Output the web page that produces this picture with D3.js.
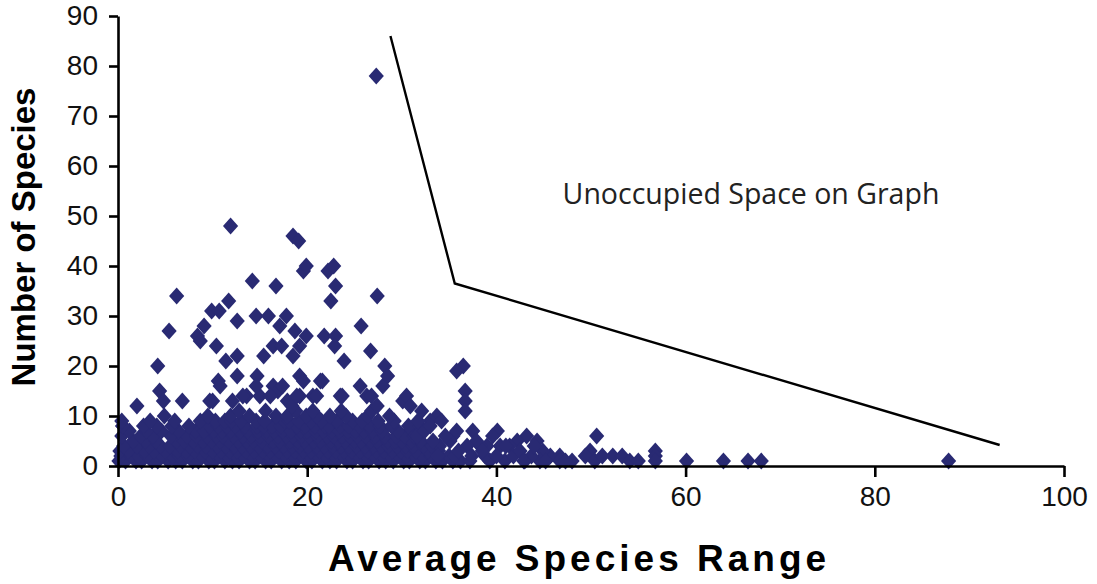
<!DOCTYPE html>
<html>
<head>
<meta charset="utf-8">
<script src="https://cdn.jsdelivr.net/npm/d3@7"></script>
<style>
  body { margin: 0; background: #fff; }
  svg { display: block; }
</style>
</head>
<body>
<script>
// tick values
const xTicks = [0, 20, 40, 60, 80, 100];
const yTicks = [0, 10, 20, 30, 40, 50, 60, 70, 80, 90];

// [average species range, number of species]
const upperPoints = [
  [27.3, 78], [11.9, 48], [18.5, 46], [19.1, 45], [19.6, 39], [19.9, 40],
  [22.2, 39], [22.8, 40], [23.0, 36], [22.5, 33], [27.4, 34], [14.2, 37],
  [16.7, 36], [6.2, 34], [11.7, 33], [9.9, 31], [10.7, 31], [12.6, 29],
  [14.6, 30], [15.9, 30], [17.8, 30], [17.1, 28], [5.4, 27], [9.1, 28],
  [8.4, 26], [8.7, 25], [10.4, 24], [4.2, 20], [11.4, 21], [12.6, 22],
  [15.4, 22], [16.4, 24], [17.3, 24], [18.7, 27], [19.9, 26], [19.2, 24],
  [18.5, 22], [21.8, 26], [23.0, 26], [22.9, 24], [23.9, 21], [25.7, 28],
  [26.7, 23], [28.2, 20], [28.5, 18]
];

const midPoints = [
  [4.4, 15], [2.0, 12], [4.8, 13], [6.8, 13], [0.5, 8], [10.6, 17],
  [12.6, 18], [14.7, 18], [13.6, 14], [12.1, 13], [10.0, 13], [16.4, 16],
  [15.0, 14], [16.9, 15], [17.9, 13], [19.2, 18], [21.4, 17], [20.6, 14],
  [23.7, 14], [25.6, 16], [26.3, 14], [28.0, 16], [30.1, 13], [27.4, 12],
  [19.2, 14], [18.4, 12], [16.1, 14], [9.7, 13], [13.2, 14], [10.8, 16],
  [19.6, 17], [21.6, 17], [23.5, 14], [26.8, 14], [18.9, 14], [21.0, 14],
  [0.4, 9], [14.6, 16], [17.4, 16]
];

const tailPoints = [
  [36.5, 20], [35.8, 19], [36.7, 15], [36.7, 13], [36.7, 11], [30.5, 14],
  [30.9, 12], [37.5, 7], [40.1, 7], [50.6, 6], [43.2, 6], [33.7, 10],
  [33.0, 9], [31.9, 8], [35.4, 6], [52.3, 2], [53.3, 2], [54.1, 1],
  [55.0, 1], [56.8, 3], [56.8, 2], [56.8, 1], [60.1, 1], [64.0, 1],
  [66.6, 1], [68.0, 1], [87.8, 1], [49.9, 3], [49.4, 2], [48.0, 1],
  [46.7, 2], [45.7, 2], [44.9, 3], [44.3, 5], [42.2, 5], [41.4, 4],
  [40.4, 4], [39.0, 4], [38.3, 4], [37.9, 5], [36.9, 4], [35.1, 5],
  [34.0, 4], [33.3, 5], [31.6, 6], [37.2, 1], [39.3, 1], [40.9, 1],
  [43.0, 1], [44.6, 1], [46.7, 1], [33.8, 2], [35.6, 2], [37.4, 2],
  [38.8, 2], [41.8, 2], [43.7, 2], [45.2, 1], [47.3, 1], [50.4, 1],
  [51.2, 2], [36.0, 3], [38.5, 3], [40.0, 2], [42.5, 3], [44.0, 4],
  [39.6, 6], [41.0, 4], [42.9, 1], [34.6, 6], [35.8, 7], [32.4, 7],
  [33.0, 8], [31.7, 9], [32.1, 11], [34.2, 9]
];

const rowOne = [0.1, 0.8, 1.9, 2.5, 3.6, 4.2, 5.3, 6.1, 6.8, 7.9, 8.5, 9.6, 10.2, 11.3, 12.1, 12.8, 13.9, 14.5, 15.6, 16.2, 17.3, 18.1, 18.8, 19.9, 20.5, 21.6, 22.4, 23.1, 24.2, 24.8, 25.9, 26.5, 27.6, 28.3, 29.1, 30.2, 30.8, 31.9, 32.5, 33.6, 34.3, 35.4, 36.2];
const rowTwo = [0.3, 1.4, 2.2, 3.1, 4.7, 5.8, 6.5, 7.4, 8.9, 9.8, 10.7, 11.6, 12.5, 13.3, 14.2, 15.1, 16.0, 16.8, 17.7, 18.6, 19.5, 20.3, 21.2, 22.0, 22.9, 23.8, 24.6, 25.4, 26.3, 27.1, 28.0, 28.8, 29.7, 30.5, 31.4, 32.2, 33.1, 34.0, 35.0];
const rowThree = [0.2, 1.1, 2.8, 3.8, 5.0, 6.3, 7.2, 8.1, 9.2, 10.0, 10.9, 11.8, 12.6, 13.5, 14.4, 15.3, 16.1, 17.0, 17.9, 18.7, 19.6, 20.4, 21.3, 22.2, 23.0, 23.9, 24.7, 25.6, 26.4, 27.3, 28.1, 29.0, 29.9, 30.6, 31.5, 32.8, 33.9];
const rowFour = [0.6, 2.0, 3.3, 4.5, 5.5, 6.6, 7.6, 8.4, 9.3, 10.5, 11.4, 12.3, 13.1, 14.0, 14.9, 15.8, 16.6, 17.5, 18.4, 19.2, 20.1, 21.0, 21.8, 22.7, 23.6, 24.4, 25.2, 26.1, 27.0, 27.8, 28.6, 29.5, 30.4, 31.2, 32.3, 33.2];
const rowFive = [1.6, 2.9, 4.0, 6.2, 7.0, 8.0, 9.0, 9.9, 10.8, 11.7, 12.7, 13.6, 14.3, 15.2, 16.4, 17.1, 18.2, 19.0, 19.7, 20.7, 21.4, 22.5, 23.3, 24.0, 25.0, 25.7, 26.7, 27.4, 28.5, 29.3, 30.0, 31.0, 32.0];
const rowSix = [0.4, 2.4, 3.7, 5.6, 7.3, 8.3, 9.4, 10.4, 11.1, 12.2, 13.2, 14.1, 15.0, 15.9, 16.9, 17.8, 18.5, 19.4, 20.2, 21.1, 22.1, 22.8, 23.7, 24.5, 25.3, 26.2, 27.2, 28.2, 29.4, 30.3, 31.3];
const rowSeven = [1.2, 3.0, 4.6, 6.4, 8.2, 9.1, 10.1, 11.0, 11.9, 12.9, 13.7, 14.8, 15.7, 16.5, 17.4, 18.3, 19.3, 20.0, 20.9, 21.7, 22.6, 23.4, 24.3, 25.1, 26.0, 26.9, 27.9, 29.6, 31.1];
const rowEight = [0.5, 2.7, 4.1, 5.7, 7.5, 9.7, 10.6, 11.5, 12.4, 13.4, 14.7, 15.4, 16.3, 17.2, 18.9, 19.8, 20.8, 21.9, 22.3, 23.5, 24.4, 25.5, 26.6, 27.7, 28.9, 30.7];
const rowNine = [3.4, 6.0, 8.7, 10.3, 11.3, 12.0, 13.0, 14.6, 15.5, 17.6, 18.1, 19.1, 20.4, 21.5, 23.1, 24.8, 25.8, 27.5, 29.2];
const rowTen = [4.9, 9.5, 11.9, 13.9, 16.7, 17.9, 19.9, 21.0, 22.4, 24.1, 26.4, 28.7];
const rowEleven = [12.8, 15.6, 18.8, 20.6, 23.6, 26.8];

// the hand-drawn boundary line, in data units
const boundary = [[28.8, 86], [35.6, 36.5], [93.2, 4.2]];

const width = 1097, height = 584;
const margin = { top: 16, right: 33, bottom: 118, left: 118 };

const svg = d3.select("body").append("svg")
  .attr("width", width)
  .attr("height", height);

const x = d3.scaleLinear().domain([0, 100]).range([margin.left, width - margin.right]);
const y = d3.scaleLinear().domain([0, 90]).range([height - margin.bottom, margin.top]);

const dense = [];
[rowOne, rowTwo, rowThree, rowFour, rowFive, rowSix, rowSeven, rowEight, rowNine, rowTen, rowEleven]
  .forEach((row, i) => row.forEach(v => dense.push([v, i + 1])));

const allPoints = dense.concat(midPoints, tailPoints, upperPoints);

const diamond = {
  draw(ctx, size) {
    const rx = 7.6, ry = 8.4;
    ctx.moveTo(0, -ry);
    ctx.lineTo(rx, 0);
    ctx.lineTo(0, ry);
    ctx.lineTo(-rx, 0);
    ctx.closePath();
  }
};

svg.append("g")
  .selectAll("path")
  .data(allPoints)
  .join("path")
  .attr("transform", d => `translate(${x(d[0])},${y(d[1])})`)
  .attr("d", d3.symbol(diamond))
  .attr("fill", "#292a73");

// axes
const xAxis = svg.append("g")
  .attr("transform", `translate(0,${y(0)})`)
  .call(d3.axisBottom(x).tickValues(xTicks).tickSize(11).tickPadding(9).tickSizeOuter(0));
const yAxis = svg.append("g")
  .attr("transform", `translate(${x(0)},0)`)
  .call(d3.axisLeft(y).tickValues(yTicks).tickSize(9).tickPadding(11).tickSizeOuter(0));

[xAxis, yAxis].forEach(g => {
  g.select(".domain").attr("stroke", "#000").attr("stroke-width", 2.6);
  g.selectAll(".tick line").attr("stroke", "#000").attr("stroke-width", 2.6);
  g.selectAll(".tick text")
    .attr("fill", "#111")
    .style("font-family", "'Liberation Sans', Arial, sans-serif")
    .style("font-size", "28px");
});

// boundary line
svg.append("path")
  .datum(boundary)
  .attr("d", d3.line().x(d => x(d[0])).y(d => y(d[1])))
  .attr("fill", "none")
  .attr("stroke", "#000")
  .attr("stroke-width", 2.4);

svg.append("text")
  .attr("x", 751)
  .attr("y", 204)
  .attr("text-anchor", "middle")
  .style("font-family", "'Open Sans', 'Noto Sans', sans-serif")
  .style("font-size", "28.5px")
  .attr("fill", "#222")
  .text("Unoccupied Space on Graph");

// axis titles
svg.append("text")
  .attr("x", 579)
  .attr("y", 571)
  .attr("text-anchor", "middle")
  .style("font-family", "'Liberation Sans', Arial, sans-serif")
  .style("font-weight", "bold")
  .style("font-size", "37px")
  .style("letter-spacing", "4px")
  .text("Average Species Range");

svg.append("text")
  .attr("transform", "translate(35,237) rotate(-90)")
  .attr("text-anchor", "middle")
  .style("font-family", "'Liberation Sans', Arial, sans-serif")
  .style("font-weight", "bold")
  .style("font-size", "33px")
  .text("Number of Species");
</script>
</body>
</html>
